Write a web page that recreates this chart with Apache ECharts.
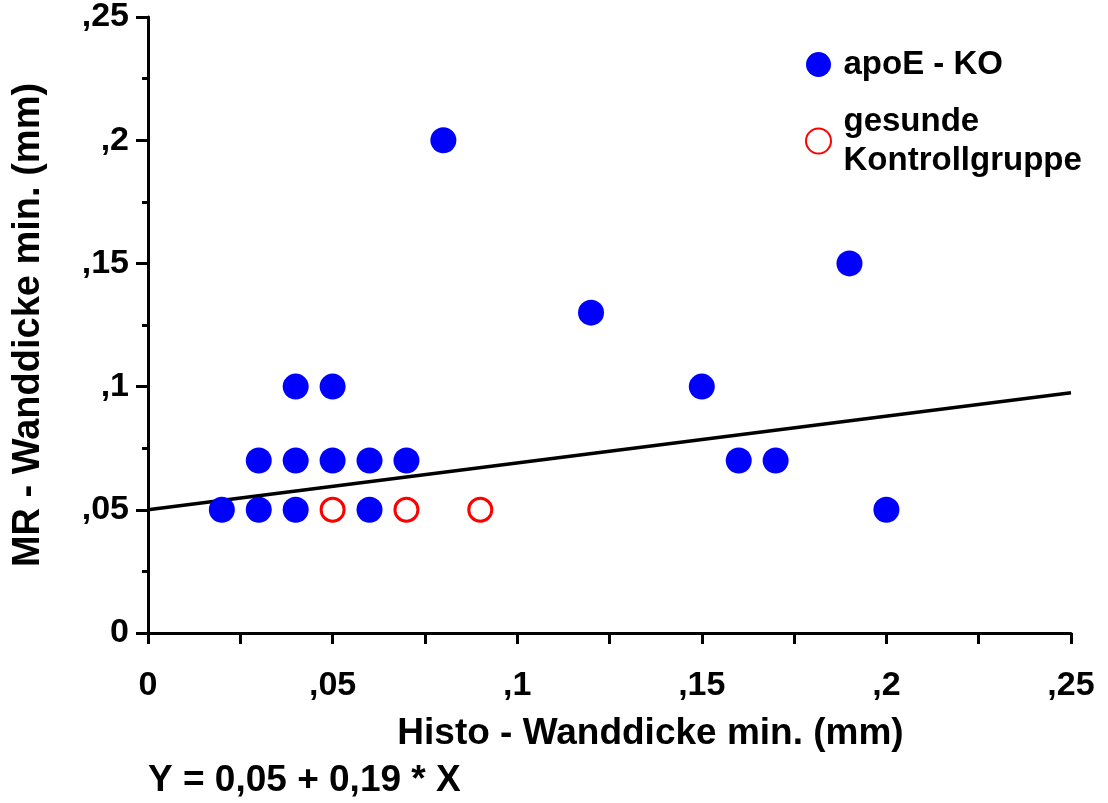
<!DOCTYPE html>
<html>
<head>
<meta charset="utf-8">
<title>MR vs Histo Wanddicke</title>
<script src="https://cdn.jsdelivr.net/npm/echarts@6/dist/echarts.min.js"></script>
<style>
  html, body { margin: 0; padding: 0; background: #fff; }
  #chart { width: 1108px; height: 803px; }
</style>
</head>
<body>
<div id="chart"></div>
<script>
// apoE-KO Tiere
const apoeX = [0.02, 0.03, 0.03, 0.04, 0.04, 0.04, 0.05, 0.05, 0.06, 0.06, 0.07, 0.08, 0.12, 0.15, 0.16, 0.17, 0.19, 0.20];
const apoeY = [0.05, 0.05, 0.07, 0.05, 0.07, 0.10, 0.07, 0.10, 0.07, 0.05, 0.07, 0.20, 0.13, 0.10, 0.07, 0.07, 0.15, 0.05];
// gesunde Kontrollgruppe
const ctrlX = [0.05, 0.07, 0.09];
const ctrlY = [0.05, 0.05, 0.05];
// Regressionsgerade Y = 0,05 + 0,19 * X (Endpunkte)
const lineX = [0, 0.25];
const lineY = [0.05, 0.0975];

const seriesNames = ['apoE - KO', 'gesunde Kontrollgruppe'];
const equationText = 'Y = 0,05 + 0,19 * X';

const FONT = '"Liberation Sans", Arial, sans-serif';

// 0.05 -> ",05", 0 -> "0"
function fmt(v) {
  if (v === 0) return '0';
  return String(+v.toFixed(3)).replace(/^0/, '').replace('.', ',');
}

const zip = (xs, ys) => xs.map((x, i) => [x, ys[i]]);

const chart = echarts.init(document.getElementById('chart'));
chart.setOption({
  animation: false,
  backgroundColor: '#fff',
  grid: { left: 148, right: 37, top: 17, bottom: 170 },
  legend: {
    orient: 'vertical',
    left: 800,
    top: 40,
    itemWidth: 40,
    itemHeight: 25,
    itemGap: 18,
    icon: 'circle',
    selectedMode: false,
    formatter: name => name.replace(' Kontrollgruppe', '\nKontrollgruppe'),
    textStyle: { fontFamily: FONT, fontWeight: 'bold', fontSize: 33, color: '#000', lineHeight: 39 },
    data: seriesNames
  },
  xAxis: {
    type: 'value',
    min: 0, max: 0.25, interval: 0.05,
    name: 'Histo - Wanddicke min. (mm)',
    nameLocation: 'middle',
    nameGap: 82,
    nameTextStyle: { fontFamily: FONT, fontWeight: 'bold', fontSize: 37, color: '#000', padding: [0, 0, 0, 82] },
    splitLine: { show: false },
    axisLine: { onZero: false, lineStyle: { color: '#000', width: 3 } },
    axisTick: { length: 11, lineStyle: { color: '#000', width: 3 } },
    minorTick: { show: true, splitNumber: 2, length: 11, lineStyle: { color: '#000', width: 3 } },
    axisLabel: { margin: 36, formatter: fmt, fontFamily: FONT, fontWeight: 'bold', fontSize: 34, color: '#000' }
  },
  yAxis: {
    type: 'value',
    min: 0, max: 0.25, interval: 0.05,
    name: 'MR - Wanddicke min. (mm)',
    nameLocation: 'middle',
    nameRotate: 90,
    nameGap: 100,
    nameTextStyle: { fontFamily: FONT, fontWeight: 'bold', fontSize: 38, color: '#000' },
    splitLine: { show: false },
    axisLine: { onZero: false, lineStyle: { color: '#000', width: 3 } },
    axisTick: { length: 12, lineStyle: { color: '#000', width: 3 } },
    minorTick: { show: true, splitNumber: 2, length: 6, lineStyle: { color: '#000', width: 3 } },
    axisLabel: { margin: 19, formatter: fmt, fontFamily: FONT, fontWeight: 'bold', fontSize: 34, color: '#000' }
  },
  graphic: [{
    type: 'text',
    left: 148,
    top: 762,
    style: { text: equationText, font: 'bold 37px ' + FONT, fill: '#000' }
  }],
  series: [
    {
      name: 'Regression',
      type: 'line',
      data: zip(lineX, lineY),
      showSymbol: false,
      lineStyle: { color: '#000', width: 3.5 },
      z: 1
    },
    {
      name: seriesNames[0],
      type: 'scatter',
      data: zip(apoeX, apoeY),
      symbol: 'circle',
      symbolSize: 26,
      itemStyle: { color: '#0000ff', opacity: 1 },
      z: 3
    },
    {
      name: seriesNames[1],
      type: 'scatter',
      data: zip(ctrlX, ctrlY),
      symbol: 'circle',
      symbolSize: 23,
      itemStyle: { color: '#fff', borderColor: '#ff0000', borderWidth: 3, opacity: 1 },
      z: 3
    }
  ]
});
</script>
</body>
</html>
